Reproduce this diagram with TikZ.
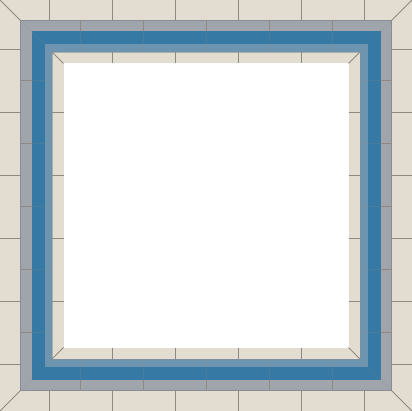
\documentclass[tikz,border=0pt]{standalone}
\definecolor{beige}{HTML}{E3DDD1}
\definecolor{grayband}{HTML}{9FA5AA}
\definecolor{grayedge}{HTML}{868D94}
\definecolor{blueband}{HTML}{3579A4}
\definecolor{lightband}{HTML}{6E95B0}
\definecolor{tileline}{HTML}{8E8983}
\tikzset{
  tile/.style={draw=tileline, line width=0.9pt},
  faint/.style={draw=tileline, line width=0.7pt, opacity=0.2},
  bandedge/.style={draw=grayedge, line width=0.8pt}
}
\begin{document}
\begin{tikzpicture}[x=1pt,y=-1pt]
\useasboundingbox (0,0) rectangle (412,411);
% bands
\fill[beige] (0,0) rectangle (412,411);
\fill[grayband] (20.5,20.5) rectangle (391.5,390.5);
\fill[blueband] (31.5,31.5) rectangle (380.5,379.5);
\fill[lightband] (44.5,44.5) rectangle (367.5,366.5);
\fill[beige] (52,52) rectangle (360,359);
\fill[white] (63.5,63.5) rectangle (348.5,347.5);
% band edges
\draw[bandedge] (20.5,20.5) rectangle (391.5,390.5);
\draw[draw=grayedge, line width=0.5pt, opacity=0.6] (52,52) rectangle (360,359);
% outer beige tiles
\foreach \p in {49,112,175,238,301,364} {
  \draw[tile] (\p,0) -- (\p,20.5);
  \draw[tile] (\p,390.5) -- (\p,411);
  \draw[tile] (0,\p) -- (20.5,\p);
  \draw[tile] (391.5,\p) -- (412,\p);
}
% gray band tiles
\foreach \p in {80,143,206,269,332} {
  \draw[tile] (\p,20.5) -- (\p,31.5);
  \draw[tile] (\p,379.5) -- (\p,390.5);
  \draw[tile] (20.5,\p) -- (31.5,\p);
  \draw[tile] (380.5,\p) -- (391.5,\p);
  \draw[faint] (\p,31.5) -- (\p,52);
  \draw[faint] (\p,359) -- (\p,379.5);
  \draw[faint] (31.5,\p) -- (52,\p);
  \draw[faint] (360,\p) -- (380.5,\p);
}
% inner beige tiles
\foreach \p in {112,175,238,301} {
  \draw[tile] (\p,52) -- (\p,63.5);
  \draw[tile] (\p,347.5) -- (\p,359);
  \draw[tile] (52,\p) -- (63.5,\p);
  \draw[tile] (348.5,\p) -- (360,\p);
}
% mitres
\draw[tile] (0,0) -- (20.5,20.5);
\draw[tile] (412,0) -- (391.5,20.5);
\draw[tile] (0,411) -- (20.5,390.5);
\draw[tile] (412,411) -- (391.5,390.5);
\draw[faint] (20.5,20.5) -- (52,52);
\draw[faint] (391.5,20.5) -- (360,52);
\draw[faint] (20.5,390.5) -- (52,359);
\draw[faint] (391.5,390.5) -- (360,359);
\draw[tile] (52,52) -- (63.5,63.5);
\draw[tile] (360,52) -- (348.5,63.5);
\draw[tile] (52,359) -- (63.5,347.5);
\draw[tile] (360,359) -- (348.5,347.5);
\end{tikzpicture}
\end{document}
